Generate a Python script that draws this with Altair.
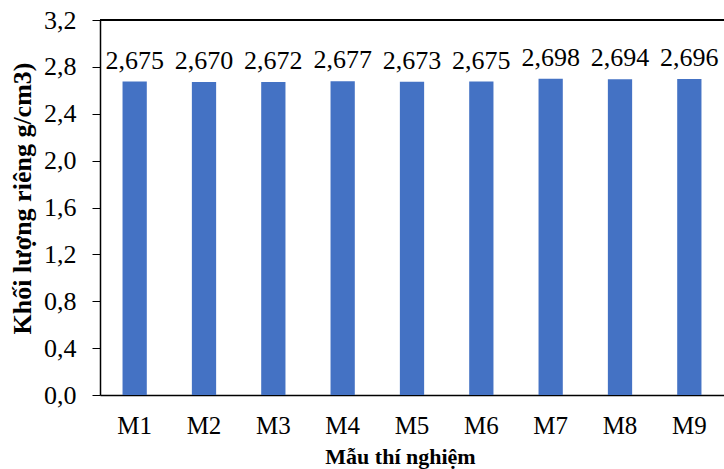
import altair as alt
import pandas as pd

samples = ["M1", "M2", "M3", "M4", "M5", "M6", "M7", "M8", "M9"]
density = [2.675, 2.670, 2.672, 2.677, 2.673, 2.675, 2.698, 2.694, 2.696]

df = pd.DataFrame({"sample": samples, "density": density})

FONT = "Liberation Serif, Times New Roman, serif"

x_enc = alt.X(
    "sample:N",
    sort=samples,
    scale=alt.Scale(paddingInner=0.65, paddingOuter=0.325),
    axis=alt.Axis(
        title="Mẫu thí nghiệm",
        labelAngle=0,
        ticks=False,
        labelPadding=18,
        titlePadding=8,
        titleX=300,
        domainColor="black",
        domainWidth=1.5,
        labelFont=FONT,
        titleFont=FONT,
        labelFontSize=25,
        titleFontSize=22,
    ),
)
y_enc = alt.Y(
    "density:Q",
    scale=alt.Scale(domain=[0, 3.2], nice=False),
    axis=alt.Axis(
        title="Khối lượng riêng g/cm3)",
        values=[0, 0.4, 0.8, 1.2, 1.6, 2.0, 2.4, 2.8, 3.2],
        labelExpr="replace(format(datum.value, '.1f'), '.', ',')",
        grid=False,
        tickSize=8,
        tickColor="black",
        domainColor="black",
        domainWidth=1.5,
        labelPadding=16,
        titleX=-78,
        titleY=178,
        titleBaseline="middle",
        titleAlign="center",
        labelFont=FONT,
        titleFont=FONT,
        labelFontSize=26,
        titleFontSize=26,
    ),
)

bars = alt.Chart(df).mark_bar(color="#4472C4").encode(x=x_enc, y=y_enc)

labels = (
    alt.Chart(df)
    .transform_calculate(lbl="replace(format(datum.density, '.3f'), '.', ',')")
    .mark_text(baseline="bottom", dy=-8, font=FONT, fontSize=26, color="black")
    .encode(x=alt.X("sample:N", sort=samples), y="density:Q", text="lbl:N")
)

top_line = alt.Chart(df).mark_rule(color="black", strokeWidth=1.5).encode(
    y=alt.datum(3.2)
)

chart = (
    alt.layer(bars, labels, top_line)
    .properties(
        width=624,
        height=375,
        autosize=alt.AutoSizeParams(type="none"),
        padding={"left": 100, "top": 20, "right": 0, "bottom": 74},
    )
    .configure_view(stroke=None)
    .configure_axis(
        labelColor="black",
        titleColor="black",
        titleFontWeight="bold",
    )
)

chart.save("out.html", embed_options={"renderer": "svg", "actions": False})
